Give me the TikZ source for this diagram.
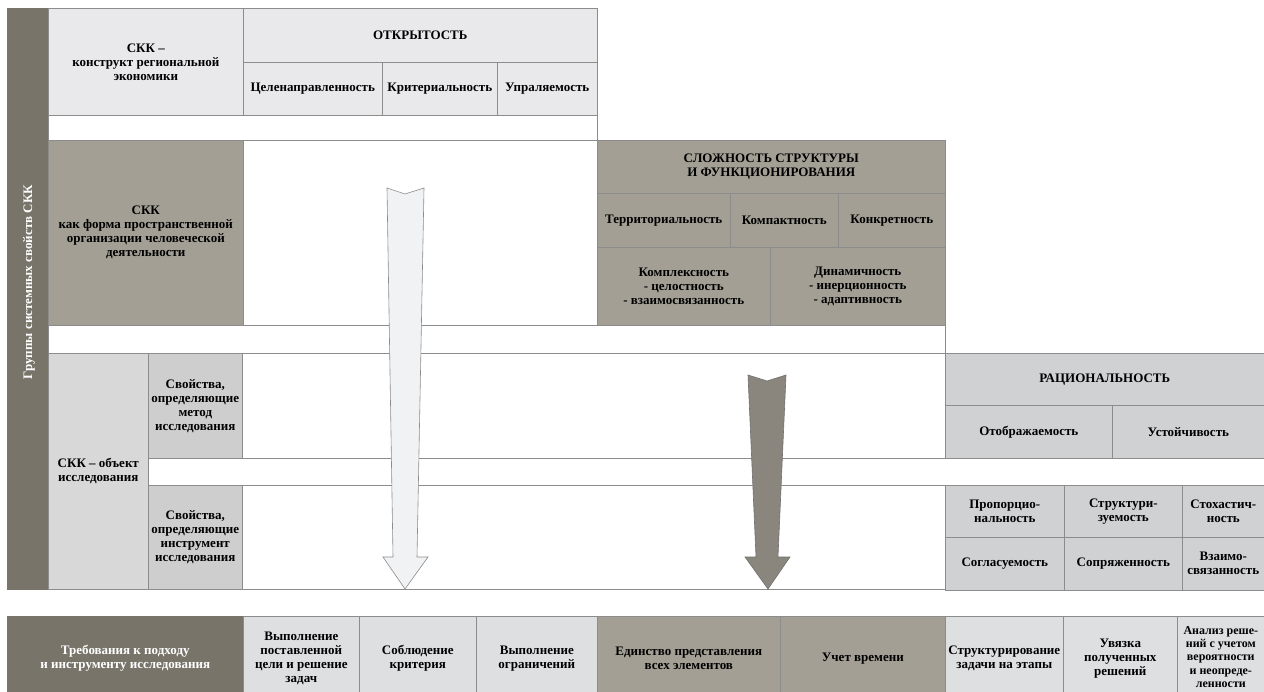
\documentclass[tikz,border=0pt]{standalone}
\usepackage{fontspec}
\setmainfont{Liberation Serif}
\usetikzlibrary{calc}

\definecolor{bardark}{RGB}{120,116,106}
\definecolor{midgray}{RGB}{163,159,149}
\definecolor{propgray}{RGB}{206,206,207}
\definecolor{ratgray}{RGB}{208,209,211}
\definecolor{palegray}{RGB}{222,223,225}
\definecolor{topgray}{RGB}{233,233,235}
\definecolor{linegray}{RGB}{140,140,140}
\definecolor{arrowgray}{RGB}{138,134,125}
\definecolor{arrowwhite}{RGB}{241,242,244}

\begin{document}
\begin{tikzpicture}[x=1pt,y=-1pt,
  cell/.style={draw=linegray, line width=0.6pt, anchor=north west, inner sep=1pt, align=center,
    font=\fontsize{13}{14}\selectfont\bfseries},
  gapbox/.style={draw=linegray, line width=0.6pt, fill=white, anchor=north west, inner sep=0pt}]
\useasboundingbox (0,0) rectangle (1264,692);

% left bar
\node (grp) [cell, draw=none, fill=bardark, minimum width=41, minimum height=582] at (7,8) {};
\node (grplabel) [rotate=90, text=white, font=\fontsize{13}{14}\selectfont\bfseries] at (29,282) {Группы системных свойств СКК};

% band 1: openness
\node (konstr) [cell, fill=topgray, minimum width=195, minimum height=107] at (48,8) {СКК --\\конструкт региональной\\экономики};
\node (open) [cell, fill=topgray, minimum width=354, minimum height=54] at (243,8) {ОТКРЫТОСТЬ};
\node (goal) [cell, fill=topgray, minimum width=139, minimum height=53] at (243,62) {Целенаправленность};
\node (crit) [cell, fill=topgray, minimum width=115, minimum height=53] at (382,62) {Критериальность};
\node (ctrl) [cell, fill=topgray, minimum width=100, minimum height=53] at (497,62) {Упраляемость};
\node (gapA) [gapbox, minimum width=549, minimum height=25] at (48,115) {};

% band 2: complexity
\node (forma) [cell, fill=midgray, minimum width=195, minimum height=185] at (48,140) {СКК\\как форма пространственной\\организации человеческой\\деятельности};
\node (emptyB) [gapbox, minimum width=354, minimum height=185] at (243,140) {};
\node (slozh) [cell, fill=midgray, minimum width=348, minimum height=53] at (597,140) {СЛОЖНОСТЬ СТРУКТУРЫ\\И ФУНКЦИОНИРОВАНИЯ};
\node (terr) [cell, fill=midgray, minimum width=133, minimum height=54] at (597,193) {Территориальность};
\node (comp) [cell, fill=midgray, minimum width=108, minimum height=54] at (730,193) {Компактность};
\node (konkr) [cell, fill=midgray, minimum width=107, minimum height=54] at (838,193) {Конкретность};
\node (kompl) [cell, fill=midgray, minimum width=173, minimum height=78] at (597,247) {Комплексность\\- целостность\\- взаимосвязанность};
\node (dyn) [cell, fill=midgray, minimum width=175, minimum height=78] at (770,247) {Динамичность\\- инерционность\\- адаптивность};
\node (gapB) [gapbox, minimum width=897, minimum height=28] at (48,325) {};

% band 3: rationality
\node (obj) [cell, fill=propgray!80!white, minimum width=100, minimum height=236] at (48,353) {СКК -- объект\\исследования};
\node (metod) [cell, fill=propgray, minimum width=94, minimum height=105] at (148,353) {Свойства,\\определяющие\\метод\\исследования};
\node (emptyC) [gapbox, minimum width=703, minimum height=105] at (242,353) {};
\node (gapC) [gapbox, minimum width=1140, minimum height=27] at (148,458) {};
\node (instr) [cell, fill=propgray, minimum width=94, minimum height=104] at (148,485) {Свойства,\\определяющие\\инструмент\\исследования};
\node (emptyD) [gapbox, minimum width=703, minimum height=104] at (242,485) {};
\node (rats) [cell, fill=ratgray, minimum width=340, minimum height=52] at (945,353) {\hspace*{-21pt}РАЦИОНАЛЬНОСТЬ};
\node (disp) [cell, fill=ratgray, minimum width=167, minimum height=53] at (945,405) {Отображаемость};
\node (stab) [cell, fill=ratgray, minimum width=173, minimum height=53] at (1112,405) {\hspace*{-21pt}Устойчивость};
\node (prop) [cell, fill=ratgray, minimum width=119, minimum height=52] at (945,485) {Пропорцио-\\нальность};
\node (struct) [cell, fill=ratgray, minimum width=118, minimum height=52] at (1064,485) {Структури-\\зуемость};
\node (stoch) [cell, fill=ratgray, minimum width=100, minimum height=52] at (1182,485) {\hspace*{-18pt}Стохастич-\\\hspace*{-18pt}ность};
\node (agree) [cell, fill=ratgray, minimum width=119, minimum height=53] at (945,537) {Согласуемость};
\node (conj) [cell, fill=ratgray, minimum width=118, minimum height=53] at (1064,537) {Сопряженность};
\node (inter) [cell, fill=ratgray, minimum width=100, minimum height=53] at (1182,537) {\hspace*{-18pt}Взаимо-\\\hspace*{-18pt}связанность};

% requirements row
\node (treb) [cell, draw=none, fill=bardark, text=white, minimum width=236, minimum height=84] at (7,616) {Требования к подходу\\и инструменту исследования};
\node (vyp) [cell, fill=palegray, minimum width=116, minimum height=84] at (243,616) {Выполнение\\поставленной\\цели и решение\\задач};
\node (sobl) [cell, fill=palegray, minimum width=117, minimum height=84] at (359,616) {Соблюдение\\критерия};
\node (ogr) [cell, fill=palegray, minimum width=121, minimum height=84] at (476,616) {Выполнение\\ограничений};
\node (edin) [cell, fill=midgray, minimum width=183, minimum height=84] at (597,616) {Единство представления\\всех элементов};
\node (time) [cell, fill=midgray, minimum width=165, minimum height=84] at (780,616) {Учет времени};
\node (etap) [cell, fill=palegray, minimum width=118, minimum height=84] at (945,616) {Структурирование\\задачи на этапы};
\node (uvyaz) [cell, fill=palegray, minimum width=114, minimum height=84] at (1063,616) {Увязка\\полученных\\решений};
\node (anal) [cell, fill=palegray, minimum width=120, minimum height=84, font=\fontsize{12}{13.3}\selectfont\bfseries] at (1177,616) {\raisebox{4pt}{\hspace*{-33pt}\begin{tabular}{@{}c@{}}Анализ реше-\\ний с учетом\\вероятности\\и неопреде-\\ленности\end{tabular}}};

% arrows
\coordinate (wtop) at (405,188);
\coordinate (wtip) at (405,589);
\draw [linegray, fill=arrowwhite, line width=0.6pt] ($(wtop)+(-18,0)$) -- ($(wtop)+(0,6)$) -- ($(wtop)+(19,0)$)
  -- ($(wtip)+(12,-32)$) -- ($(wtip)+(23,-32)$) -- (wtip) -- ($(wtip)+(-22,-32)$) -- ($(wtip)+(-12,-32)$) -- cycle;
\coordinate (gtop) at (767,375);
\coordinate (gtip) at (768,589);
\draw [linegray!80!black, fill=arrowgray, line width=0.6pt] ($(gtop)+(-19,0)$) -- ($(gtop)+(0,6)$) -- ($(gtop)+(19,0)$)
  -- ($(gtip)+(10,-32)$) -- ($(gtip)+(22,-32)$) -- (gtip) -- ($(gtip)+(-23,-32)$) -- ($(gtip)+(-12,-32)$) -- cycle;

\end{tikzpicture}
\end{document}
